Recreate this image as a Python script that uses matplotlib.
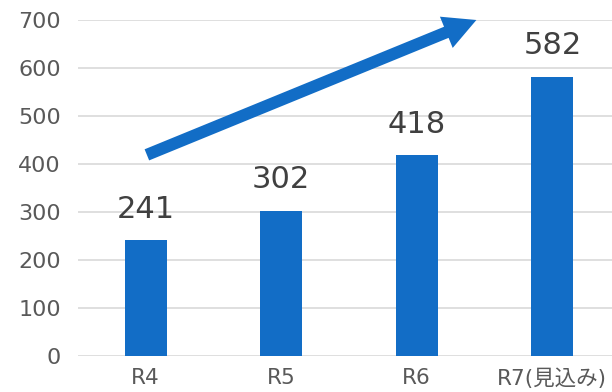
import matplotlib.pyplot as plt

plt.rcParams['font.family'] = ['DejaVu Sans', 'Noto Sans CJK JP']

categories = ["R4", "R5", "R6", "R7(見込み)"]
values = [241, 302, 418, 582]
yticks = [0, 100, 200, 300, 400, 500, 600, 700]

blue = '#126dc6'

fig = plt.figure(figsize=(6.12, 3.92), dpi=100)
ax = fig.add_axes([0.127, 0.092, 0.873, 0.857])

x = range(len(categories))
ax.bar(x, values, width=0.31, color=blue, zorder=3)

for i, v in zip(x, values):
    ax.annotate(str(v), (i, v), xytext=(0, 12), textcoords='offset points',
                ha='center', va='bottom', fontsize=22, color='#404040')

# trend arrow
ax.annotate('', xy=(2.44, 700), xytext=(0.01, 419),
            arrowprops=dict(arrowstyle='simple,head_length=1.3,head_width=1.35,tail_width=0.48',
                            color=blue, lw=0, mutation_scale=18, shrinkA=0, shrinkB=0),
            annotation_clip=False, zorder=4)

ax.set_xlim(-0.5, 3.44)
ax.set_ylim(0, 700)
ax.set_yticks(yticks)
ax.set_xticks(list(x))
ax.set_xticklabels(categories)
ax.yaxis.grid(True, color='#d9d9d9', lw=1.2, zorder=0)
ax.set_axisbelow(True)
for s in ax.spines.values():
    s.set_visible(False)
ax.tick_params(axis='both', length=0, colors='#595959', labelsize=16)
ax.tick_params(axis='y', pad=12)
ax.tick_params(axis='x', pad=9, labelsize=15.5)

fig.savefig('out.png', dpi=100)
plt.close(fig)
